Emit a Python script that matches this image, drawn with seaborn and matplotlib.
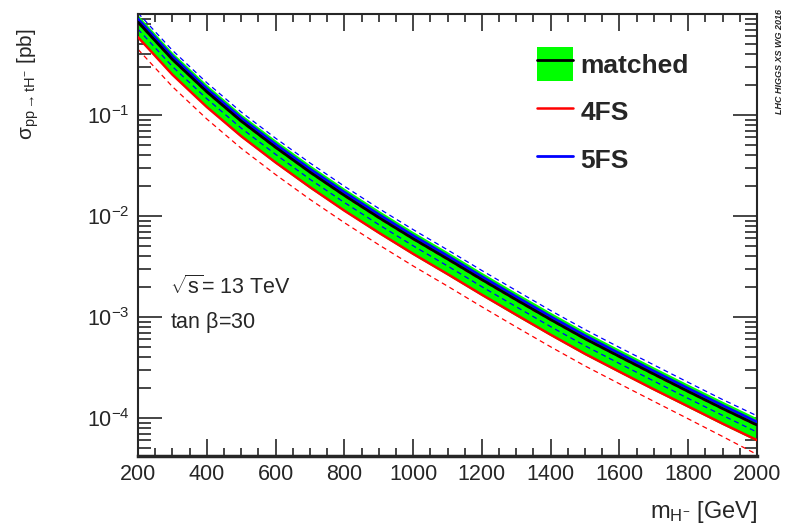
import numpy as np
import pandas as pd
import matplotlib
matplotlib.use('Agg')
import matplotlib.pyplot as plt
import seaborn as sns
from matplotlib.patches import Patch
from matplotlib.lines import Line2D
from matplotlib.ticker import FixedLocator, LogFormatterSciNotation, MultipleLocator

# charged Higgs mass points [GeV]
mass = [200, 300, 400, 500, 600, 700, 800, 900, 1000, 1100, 1200, 1300, 1400,
        1500, 1600, 1700, 1800, 1900, 2000]

# matched cross section and its band [pb]
matched = [0.832, 0.355, 0.170, 0.0871, 0.0479, 0.0272, 0.0160, 0.00966, 0.00596, 0.00376,
           0.002345, 0.00148, 0.000942, 0.000609, 0.000406, 0.000272, 0.000183, 0.000124, 0.0000851]
matched_up = [0.978, 0.417, 0.200, 0.102, 0.0563, 0.0320, 0.0188, 0.01135, 0.00700, 0.00442,
              0.002755, 0.001738, 0.00111, 0.000716, 0.000477, 0.000319, 0.000215, 0.000146, 0.000100]
matched_down = [0.576, 0.246, 0.118, 0.0603, 0.0331, 0.0188, 0.0111, 0.00668, 0.00412, 0.00260,
                0.001622, 0.001022, 0.000652, 0.000421, 0.000281, 0.000188, 0.000127, 0.0000858, 0.0000589]

# 4FS
fs4 = [0.589, 0.251, 0.120, 0.0617, 0.0339, 0.0193, 0.0113, 0.00684, 0.00422, 0.00266,
       0.00166, 0.00105, 0.000667, 0.000431, 0.000287, 0.000192, 0.000130, 0.0000878, 0.0000603]
fs4_up = [0.813, 0.347, 0.166, 0.0851, 0.0468, 0.0266, 0.0156, 0.00944, 0.00582, 0.00367,
          0.002286, 0.001442, 0.000921, 0.000596, 0.000397, 0.000265, 0.000179, 0.000121, 0.0000832]
fs4_down = [0.447, 0.191, 0.0913, 0.0468, 0.0257, 0.0146, 0.00859, 0.00519, 0.00320, 0.00202,
            0.00126, 0.000795, 0.000506, 0.000327, 0.000218, 0.000146, 0.0000980, 0.0000655, 0.0000435]

# 5FS
fs5 = [0.892, 0.381, 0.182, 0.0934, 0.0513, 0.0292, 0.0172, 0.01036, 0.00639, 0.00403,
       0.002511, 0.001585, 0.001008, 0.000653, 0.000435, 0.000291, 0.000196, 0.000133, 0.0000912]
fs5_up = [1.023, 0.437, 0.209, 0.107, 0.0589, 0.0335, 0.0197, 0.01188, 0.00733, 0.00462,
          0.002882, 0.001824, 0.001157, 0.000750, 0.000499, 0.000335, 0.000225, 0.000152, 0.000105]
fs5_down = [0.708, 0.302, 0.145, 0.0741, 0.0408, 0.0231, 0.0136, 0.00822, 0.00507, 0.00320,
            0.001993, 0.001261, 0.000802, 0.000518, 0.000346, 0.000232, 0.000156, 0.000106, 0.0000724]

ytick_vals = [1e-4, 1e-3, 1e-2, 1e-1]

sns.set_style('ticks')
plt.rcParams['font.family'] = ['Liberation Sans', 'DejaVu Sans']
plt.rcParams['mathtext.fontset'] = 'custom'
plt.rcParams['mathtext.rm'] = 'Liberation Sans'
plt.rcParams['mathtext.it'] = 'Liberation Sans:italic'
plt.rcParams['mathtext.bf'] = 'Liberation Sans:bold'

df = pd.DataFrame({'mass': mass, 'matched': matched, 'fs4': fs4, 'fs4_up': fs4_up,
                   'fs4_down': fs4_down, 'fs5': fs5, 'fs5_up': fs5_up, 'fs5_down': fs5_down})

fig = plt.figure(figsize=(7.85, 5.26), dpi=100)
ax = fig.add_axes([138/785, 70/526, 619/785, 442/526])

ax.fill_between(mass, matched_down, matched_up, color='#00ff00', lw=0, zorder=1)

# dashed uncertainty lines
for col, c in [('fs5_up', 'blue'), ('fs5_down', 'blue'), ('fs4_up', 'red'), ('fs4_down', 'red')]:
    sns.lineplot(data=df, x='mass', y=col, ax=ax, color=c, lw=0.9, linestyle=(0, (4, 3)), zorder=2)

sns.lineplot(data=df, x='mass', y='fs4', ax=ax, color='red', lw=1.8, zorder=3)
sns.lineplot(data=df, x='mass', y='fs5', ax=ax, color='blue', lw=2.0, zorder=3)
sns.lineplot(data=df, x='mass', y='matched', ax=ax, color='black', lw=2.0, zorder=4)

ax.set_yscale('log')
ax.set_xlim(200, 2000)
ax.set_ylim(4.2e-5, 1.0)
ax.set_xlabel('')
ax.set_ylabel('')

ax.xaxis.set_major_locator(MultipleLocator(200))
ax.xaxis.set_minor_locator(MultipleLocator(50))
ax.yaxis.set_major_locator(FixedLocator(ytick_vals))
ax.yaxis.set_major_formatter(LogFormatterSciNotation())
minors = [m * 10.0**e for e in range(-5, 0) for m in range(2, 10)]
ax.yaxis.set_minor_locator(FixedLocator(minors))

ax.tick_params(which='both', direction='in', top=True, right=True, labelsize=15.5, width=1.2, pad=6)
ax.tick_params(which='major', axis='x', length=12)
ax.tick_params(which='minor', axis='x', length=6)
ax.tick_params(which='major', axis='y', length=17)
ax.tick_params(which='minor', axis='y', length=9)
ax.spines['bottom'].set_linewidth(2.5)
for s in ['left', 'top', 'right']:
    ax.spines[s].set_linewidth(1.5)

handles = [(Patch(facecolor='#00ff00', edgecolor='none'), Line2D([], [], color='black', lw=2)),
           Line2D([], [], color='red', lw=1.8),
           Line2D([], [], color='blue', lw=2)]
ax.legend(handles, ['matched', '4FS', '5FS'], loc='upper left', bbox_to_anchor=(0.645, 0.925),
          frameon=False, borderpad=0, borderaxespad=0, handlelength=1.36, handleheight=1.58,
          handletextpad=0.27, labelspacing=0.54, prop={'weight': 'bold', 'size': 19})

ax.text(0.052, 0.382, r'$\mathregular{\sqrt{s}}$= 13 TeV', transform=ax.transAxes,
        fontsize=15.5, va='center', ha='left')
ax.text(0.052, 0.303, r'tan $\mathregular{\beta}$=30', transform=ax.transAxes,
        fontsize=15.5, va='center', ha='left')

fig.text(28/785, 1 - 84/526, r'$\mathregular{\sigma_{pp \rightarrow tH^{-}}}$ [pb]',
         rotation=90, ha='center', va='center', fontsize=15)
fig.text(757/785, 1 - 512/526, r'$\mathregular{m_{H^{-}}}$ [GeV]', ha='right', va='center', fontsize=17)
fig.text(779/785, 1 - 62/526, 'LHC HIGGS XS WG 2016', rotation=90, ha='center', va='center',
         fontsize=6.5, style='italic', weight='bold')

fig.savefig('out.png', dpi=100)
